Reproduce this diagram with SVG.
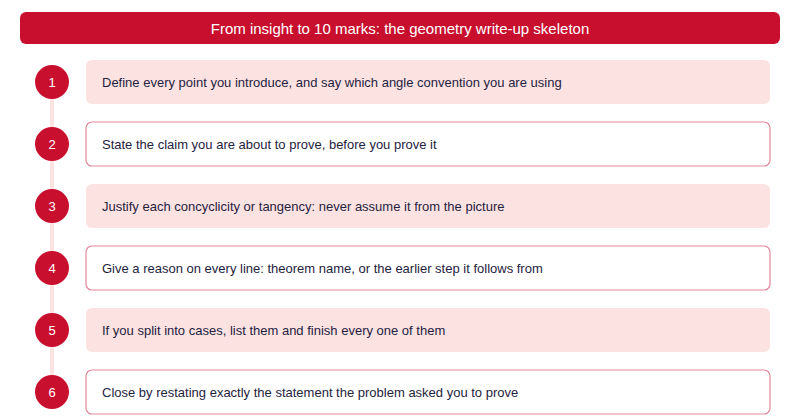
<svg xmlns="http://www.w3.org/2000/svg" width="800" height="420" viewBox="0 0 800 420">
<style>
.t{font-family:"Liberation Sans",Arial,sans-serif;font-size:13px;fill:#1f2340;dominant-baseline:central}
.n{font-family:"Liberation Sans",Arial,sans-serif;font-size:13px;fill:#ffffff;text-anchor:middle;dominant-baseline:central}
.fill{fill:#fde2e2}
.out{fill:#ffffff;stroke:#c8102e;stroke-opacity:0.5;stroke-width:1.2}
.dot{fill:#c8102e}
</style>
<rect width="800" height="420" fill="#ffffff"/>
<g id="header">
<rect x="20" y="12" width="760" height="32" rx="6" fill="#c8102e"/>
<text x="400" y="28" font-family="Liberation Sans,Arial,sans-serif" font-size="15" fill="#ffffff" text-anchor="middle" dominant-baseline="central">From insight to 10 marks: the geometry write-up skeleton</text>
</g>
<g id="connectors">
<line x1="52" y1="82" x2="52" y2="392" stroke="#fde2e2" stroke-width="4"/>
</g>
<g id="step1">
<rect class="fill" x="86" y="60" width="684" height="44" rx="6"/>
<circle class="dot" cx="52" cy="82" r="17"/>
<text class="n" x="52" y="82">1</text>
<text class="t" x="102" y="82">Define every point you introduce, and say which angle convention you are using</text>
</g>
<g id="step2">
<rect class="out" x="86" y="122" width="684" height="44" rx="6"/>
<circle class="dot" cx="52" cy="144" r="17"/>
<text class="n" x="52" y="144">2</text>
<text class="t" x="102" y="144">State the claim you are about to prove, before you prove it</text>
</g>
<g id="step3">
<rect class="fill" x="86" y="184" width="684" height="44" rx="6"/>
<circle class="dot" cx="52" cy="206" r="17"/>
<text class="n" x="52" y="206">3</text>
<text class="t" x="102" y="206">Justify each concyclicity or tangency: never assume it from the picture</text>
</g>
<g id="step4">
<rect class="out" x="86" y="246" width="684" height="44" rx="6"/>
<circle class="dot" cx="52" cy="268" r="17"/>
<text class="n" x="52" y="268">4</text>
<text class="t" x="102" y="268">Give a reason on every line: theorem name, or the earlier step it follows from</text>
</g>
<g id="step5">
<rect class="fill" x="86" y="308" width="684" height="44" rx="6"/>
<circle class="dot" cx="52" cy="330" r="17"/>
<text class="n" x="52" y="330">5</text>
<text class="t" x="102" y="330">If you split into cases, list them and finish every one of them</text>
</g>
<g id="step6">
<rect class="out" x="86" y="370" width="684" height="44" rx="6"/>
<circle class="dot" cx="52" cy="392" r="17"/>
<text class="n" x="52" y="392">6</text>
<text class="t" x="102" y="392">Close by restating exactly the statement the problem asked you to prove</text>
</g>
</svg>
